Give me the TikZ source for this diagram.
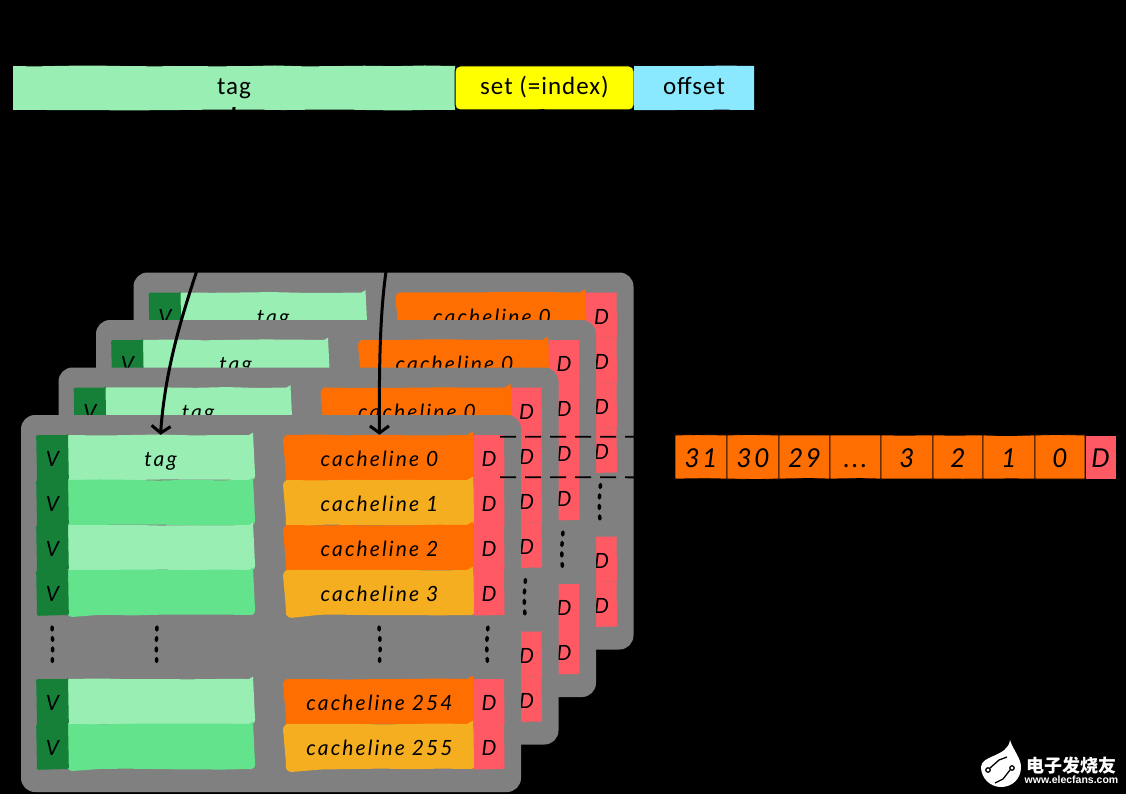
\documentclass[tikz,border=0pt]{standalone}
\usepackage{fontspec}
\usepackage{xcolor}
\usetikzlibrary{arrows.meta,positioning,calc,decorations.pathmorphing}
\newfontfamily\handfont[LetterSpace=10]{Lato}
\newfontfamily\barfont[LetterSpace=4]{Carlito}
\newfontfamily\cjkfont{Noto Sans CJK SC}
\setsansfont{Liberation Sans}
\newcommand{\bitgap}{...}
\definecolor{taglight}{HTML}{99EEB3}
\definecolor{tagdark}{HTML}{63E38C}
\definecolor{validgreen}{HTML}{168038}
\definecolor{lineorange}{HTML}{FF6E00}
\definecolor{lineamber}{HTML}{F6AE21}
\definecolor{dirtyred}{HTML}{FF5964}
\definecolor{panelgray}{HTML}{808080}
\definecolor{setyellow}{HTML}{FFFF00}
\definecolor{offsetblue}{HTML}{8BE9FF}
\tikzset{
  rough/.style={decorate,decoration={random steps,segment length=30pt,amplitude=0.6pt}},
  cellbase/.style={rough,inner sep=0pt,minimum height=45pt,text=black,text height=18pt,text depth=0pt,
    font=\handfont\itshape\fontsize{21}{21}\selectfont},
  validcell/.style={cellbase,fill=validgreen,minimum width=31pt,rounded corners=1.5pt},
  tagcell/.style={cellbase,minimum width=185pt,rounded corners=4pt},
  linecell/.style={cellbase,minimum width=187pt,rounded corners=6pt},
  dirtycell/.style={cellbase,fill=dirtyred,minimum width=30pt,rounded corners=1pt},
  panelbox/.style={fill=panelgray,inner sep=0pt,minimum width=500pt,minimum height=377pt,rounded corners=14pt},
  barbase/.style={inner sep=0pt,minimum height=44pt,text=black,text height=14pt,text depth=0pt,
    font=\barfont\fontsize{25}{25}\selectfont},
  barcell/.style={barbase,rough},
  bitcell/.style={rough,draw=black,line width=0.8pt,fill=lineorange,inner sep=0pt,minimum height=44pt,
    text height=20pt,text depth=0pt,font=\handfont\itshape\fontsize{26}{26}\selectfont},
  dotline/.style={line width=3.5pt,line cap=round,dash pattern=on 3pt off 7.5pt},
  wirearrow/.style={-{Straight Barb[length=7pt,width=19pt,line width=3pt]},line width=3pt},
  cutline/.style={line width=1.8pt,dash pattern=on 16pt off 9pt}
}
\begin{document}
\begin{tikzpicture}[x=1pt,y=-1pt]
  \pgfmathsetseed{11}
  \useasboundingbox (0,0) rectangle (1126,794);
  \fill[black] (0,0) rectangle (1126,794);

  % address bar
  \node[barcell,fill=taglight,minimum width=442pt] (addrtag) at (234,88) {tag};
  \node[barbase,fill=setyellow,draw=black,line width=1pt,rounded corners=5pt,minimum width=179pt] (addrset) at (544.5,88) {set (=index)};
  \node[barcell,fill=offsetblue,minimum width=120pt] (addroffset) at (694,88) {offset};

  % four cache ways, back to front
  \foreach \p/\dx/\dy in {3/112.5/-142.5,2/75/-95,1/37.5/-47.5,0/0/0} {
    \begin{scope}[shift={(\dx,\dy)}]
      \node[panelbox] (panel\p) at (271,603.5) {};
      \foreach \r/\y/\tagfill/\linefill/\linetext in {
          0/457.5/taglight/lineorange/cacheline 0,
          1/502.5/tagdark/lineamber/cacheline 1,
          2/547.5/taglight/lineorange/cacheline 2,
          3/592.5/tagdark/lineamber/cacheline 3,
          254/701.5/taglight/lineorange/cacheline 254,
          255/746.5/tagdark/lineamber/cacheline 255} {
        % rear ways only show their first row and their D column
        \pgfmathtruncatemacro{\showrow}{(\p==0)||(\r==0)}
        \ifnum\showrow=1
          \node[tagcell,fill=\tagfill] (tag\p-\r) at (160.5,\y) {\ifnum\r=0 tag\fi};
          \node[validcell] (valid\p-\r) at (52.5,\y) {V};
          \node[linecell,fill=\linefill] (line\p-\r) at (379.5,\y) {\linetext};
        \fi
        \node[dirtycell] (dirty\p-\r) at (489,\y) {D};
      }
      \foreach \x/\b in {52/3,157/-3,379/5,488/-6} {
        \draw[dotline] (\x,627) to[bend left=\b] (\x,668);
      }
    \end{scope}
  }

  % bits of one cacheline
  \foreach \n/\x/\w/\t in {0/701/52/31,1/753/52/30,2/804.5/51/29,3/855.5/51/\bitgap,4/907/52/3,5/958/50/2,6/1009/52/1,7/1060/50/0} {
    \node[bitcell,minimum width=\w pt] (bit\n) at (\x,457) {\t};
  }
  \node[bitcell,fill=dirtyred,minimum width=31pt] (bitd) at (1100.5,457) {D};

  % connectors
  \draw[wirearrow] ([yshift=3pt]addrtag.south) .. controls (234,210) and (170,300) .. (tag0-0.north);
  \draw[wirearrow] (addrset.south) .. controls (390,130) and (378,230) .. (line0-0.north);
  \draw[cutline] ([xshift=-4pt,yshift=-2pt]dirty0-0.north east) -- ([yshift=-2pt]bit0.north west);
  \draw[cutline] ([xshift=-4pt,yshift=3pt]dirty0-0.south east) -- ([yshift=2pt]bit0.south west);

  % site mark
  \fill[white] (1010,740) .. controls (1013,750) and (1021,758) .. (1021,767)
    .. controls (1021,779) and (1012,787) .. (1001,787)
    .. controls (990,787) and (981,778) .. (981,767)
    .. controls (981,755) and (1008,757) .. (1010,740) -- cycle;
  \draw[black,line width=1.3pt] (988,770) circle (2.2) (990,768) -- (999,760) -- (1007,757);
  \draw[black,line width=1.3pt] (1012,768) circle (2.2) (1010,770) -- (1003,779) -- (995,783);
  \node[text=white,inner sep=0pt,font=\cjkfont\bfseries\fontsize{18}{18}\selectfont] (marktext) at (1071.5,766) {电子发烧友};
  \node[text=white,inner sep=0pt,font=\sffamily\bfseries\fontsize{10.5}{10.5}\selectfont] (markurl) at (1071.5,780) {www.elecfans.com};
\end{tikzpicture}
\end{document}
